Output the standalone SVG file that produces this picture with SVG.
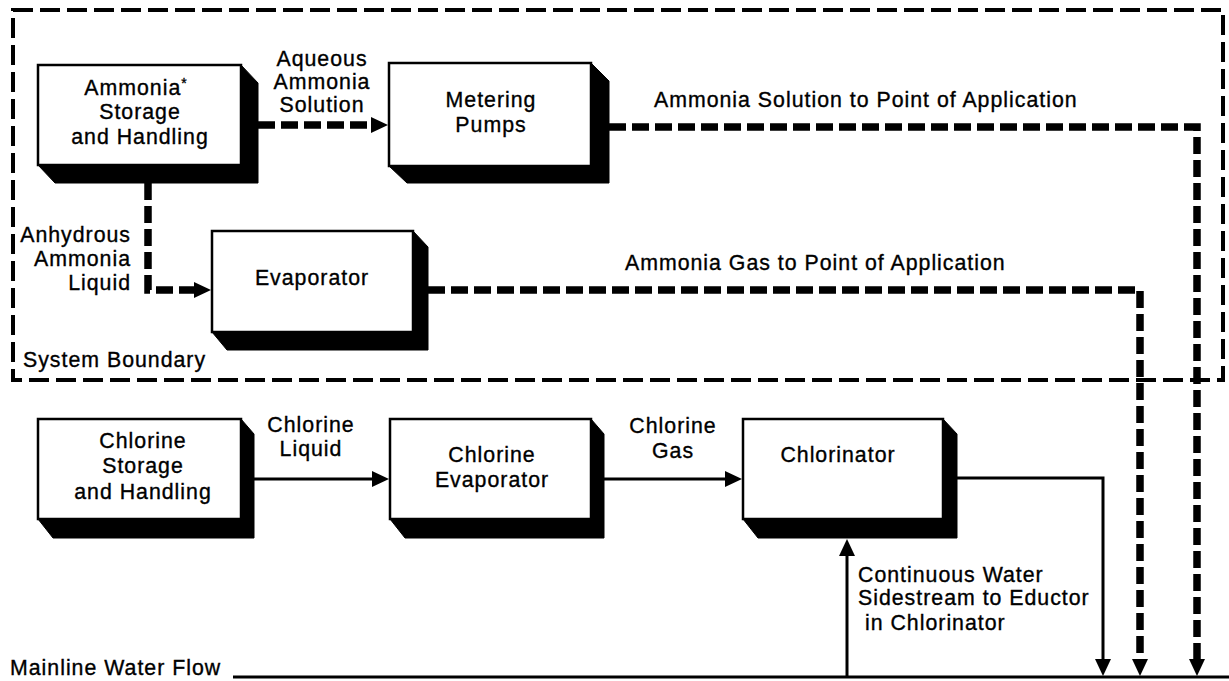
<svg xmlns="http://www.w3.org/2000/svg" width="1229" height="681" viewBox="0 0 1229 681">
  <style>
    text { font-family: "Liberation Sans", Arial, Helvetica, sans-serif; font-size: 21.3px; letter-spacing: 1px; fill: #000; stroke: #000; stroke-width: 0.35px; }
    .mid { text-anchor: middle; }
    .end { text-anchor: end; }
    .face { fill: #fff; stroke: #000; stroke-width: 2.5; }
    .depth { fill: #000; stroke: #000; stroke-width: 1; stroke-linejoin: round; }
    .amm { fill: none; stroke: #000; stroke-width: 7.5; stroke-dasharray: 17 6; stroke-linejoin: miter; }
    .flow { fill: none; stroke: #000; stroke-width: 3; }
    .boundary { fill: none; stroke: #000; stroke-width: 4; stroke-dasharray: 20 7; }
  </style>
  <defs>
    <marker id="ah" markerUnits="userSpaceOnUse" markerWidth="17" markerHeight="16" refX="1" refY="8" orient="auto">
      <path d="M0,0 L17,8 L0,16 Z" fill="#000"/>
    </marker>
  </defs>

  <rect id="system-boundary" class="boundary" x="13" y="10" width="1210" height="370"/>
  <text x="23" y="367">System Boundary</text>

  <!-- ammonia side -->
  <g id="ammonia-storage">
    <polygon class="depth" points="241,65 258,83 258,183 55,183 38,165 241,165"/>
    <rect class="face" x="38" y="65" width="203" height="100"/>
    <text class="mid" x="136" y="95">Ammonia<tspan font-size="14" dy="-7">*</tspan></text>
    <text class="mid" x="140" y="119">Storage</text>
    <text class="mid" x="140" y="144">and Handling</text>
  </g>

  <g id="metering-pumps">
    <polygon class="depth" points="591,63 609,81 609,183 407,183 389,166 591,166"/>
    <rect class="face" x="389" y="63" width="202" height="103"/>
    <text class="mid" x="491" y="107">Metering</text>
    <text class="mid" x="491" y="132">Pumps</text>
  </g>

  <g id="evaporator">
    <polygon class="depth" points="413,231 428,247 428,350 227,350 212,332 413,332"/>
    <rect class="face" x="212" y="231" width="201" height="101"/>
    <text class="mid" x="312" y="285">Evaporator</text>
  </g>

  <!-- chlorine side -->
  <g id="chlorine-storage">
    <polygon class="depth" points="241,419 254,434 254,538 53,538 38,519 241,519"/>
    <rect class="face" x="38" y="419" width="203" height="100"/>
    <text class="mid" x="143" y="448">Chlorine</text>
    <text class="mid" x="143" y="473">Storage</text>
    <text class="mid" x="143" y="499">and Handling</text>
  </g>

  <g id="chlorine-evaporator">
    <polygon class="depth" points="591,419 604,434 604,538 405,538 390,519 591,519"/>
    <rect class="face" x="390" y="419" width="201" height="100"/>
    <text class="mid" x="492" y="462">Chlorine</text>
    <text class="mid" x="492" y="487">Evaporator</text>
  </g>

  <g id="chlorinator">
    <polygon class="depth" points="943,419 957,434 957,538 758,538 743,519 943,519"/>
    <rect class="face" x="743" y="419" width="200" height="100"/>
    <text class="mid" x="838" y="462">Chlorinator</text>
  </g>

  <!-- piping -->
  <g id="connectors">
    <path class="amm" d="M258,125 H372" marker-end="url(#ah)"/>
    <path class="amm" d="M148,183 V290 H195" marker-end="url(#ah)"/>
    <path class="amm" d="M609,127 H1197 V660" marker-end="url(#ah)"/>
    <path class="amm" d="M428,290 H1140 V660" marker-end="url(#ah)"/>

    <path class="flow" d="M254,479 H373" marker-end="url(#ah)"/>
    <path class="flow" d="M604,479 H726" marker-end="url(#ah)"/>
    <path class="flow" d="M957,478 H1103 V660" marker-end="url(#ah)"/>
    <path class="flow" d="M847,677 V555" marker-end="url(#ah)"/>
    <path class="flow" d="M233,677 H1229"/>
  </g>

  <!-- stream labels -->
  <g id="labels">
    <text class="mid" x="322" y="66">Aqueous</text>
    <text class="mid" x="322" y="89">Ammonia</text>
    <text class="mid" x="322" y="112">Solution</text>
    <text x="654" y="107">Ammonia Solution to Point of Application</text>
    <text class="end" x="131" y="242">Anhydrous</text>
    <text class="end" x="131" y="266">Ammonia</text>
    <text class="end" x="131" y="290">Liquid</text>
    <text x="625" y="270">Ammonia Gas to Point of Application</text>
    <text class="mid" x="311" y="432">Chlorine</text>
    <text class="mid" x="311" y="456">Liquid</text>
    <text class="mid" x="673" y="433">Chlorine</text>
    <text class="mid" x="673" y="458">Gas</text>
    <text x="858" y="582">Continuous Water</text>
    <text x="858" y="605">Sidestream to Eductor</text>
    <text x="865" y="630">in Chlorinator</text>
    <text x="10" y="675">Mainline Water Flow</text>
  </g>
</svg>
